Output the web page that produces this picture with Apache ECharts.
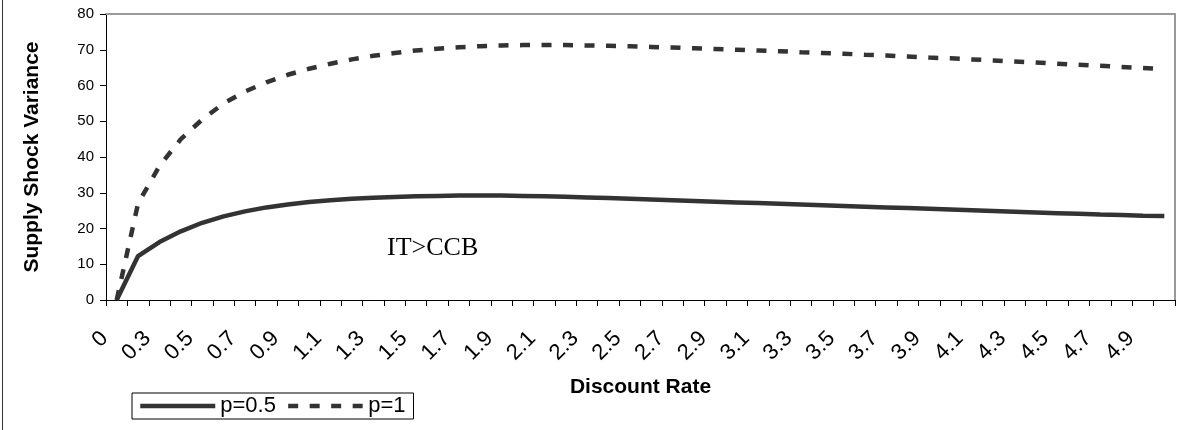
<!DOCTYPE html>
<html>
<head>
<meta charset="utf-8">
<script src="https://cdn.jsdelivr.net/npm/echarts@6/dist/echarts.min.js"></script>
<style>
html,body{margin:0;padding:0;background:#fff;}
#chart{width:1186px;height:430px;}
</style>
</head>
<body>
<div id="chart"></div>
<script>
// Categories (discount rate)
const categories = ['0','0.2','0.3','0.4','0.5','0.6','0.7','0.8','0.9','1',
  '1.1','1.2','1.3','1.4','1.5','1.6','1.7','1.8','1.9','2',
  '2.1','2.2','2.3','2.4','2.5','2.6','2.7','2.8','2.9','3',
  '3.1','3.2','3.3','3.4','3.5','3.6','3.7','3.8','3.9','4',
  '4.1','4.2','4.3','4.4','4.5','4.6','4.7','4.8','4.9','5'];

// p = 0.5 (solid)
const p05 = [0, 12.3, 16.2, 19.2, 21.6, 23.4, 24.8, 25.9, 26.7, 27.4,
  27.9, 28.3, 28.6, 28.8, 29.0, 29.1, 29.2, 29.2, 29.2, 29.1,
  29.0, 28.9, 28.7, 28.5, 28.3, 28.1, 27.9, 27.7, 27.5, 27.3,
  27.1, 26.9, 26.7, 26.5, 26.3, 26.1, 25.9, 25.7, 25.5, 25.3,
  25.1, 24.9, 24.7, 24.5, 24.3, 24.1, 23.9, 23.8, 23.6, 23.5];

// p = 1 (dashed)
const p1 = [0, 27.0, 37.5, 45.0, 50.5, 55.0, 58.3, 60.9, 63.0, 64.7,
  66.1, 67.3, 68.3, 69.1, 69.8, 70.3, 70.7, 71.0, 71.2, 71.3,
  71.3, 71.3, 71.2, 71.1, 71.0, 70.8, 70.6, 70.4, 70.2, 70.0,
  69.8, 69.6, 69.3, 69.1, 68.9, 68.6, 68.4, 68.1, 67.8, 67.6,
  67.3, 67.0, 66.7, 66.4, 66.1, 65.8, 65.5, 65.2, 64.9, 64.6];

const seriesNames = ['p=0.5', 'p=1'];
const xTitle = 'Discount Rate';
const yTitle = 'Supply Shock Variance';
const annotation = 'IT>CCB';

const FONT = '"Liberation Sans", Arial, sans-serif';

const chart = echarts.init(document.getElementById('chart'), null, {renderer: 'canvas'});
chart.setOption({
  animation: false,
  backgroundColor: '#fff',
  textStyle: {fontFamily: FONT, color: '#000'},
  grid: {left: 106, right: 11, top: 14, bottom: 130, containLabel: false},
  legend: {
    show: true,
    left: 132, top: 393,
    orient: 'horizontal',
    itemWidth: 75, itemHeight: 14, itemGap: 10,
    padding: [2, 8, 2, 6],
    borderColor: '#000', borderWidth: 1,
    backgroundColor: '#fff',
    itemStyle: {opacity: 0},
    lineStyle: {width: 4.5},
    textStyle: {fontFamily: FONT, fontSize: 22, color: '#000'},
    data: seriesNames
  },
  xAxis: [{
    type: 'category',
    data: categories,
    boundaryGap: true,
    position: 'bottom',
    name: xTitle,
    nameLocation: 'middle',
    nameGap: 77,
    nameTextStyle: {fontFamily: FONT, fontWeight: 'bold', fontSize: 21, color: '#000'},
    axisLine: {show: true, onZero: false, lineStyle: {color: '#000', width: 1}},
    axisTick: {show: true, interval: 0, length: 6, inside: false, lineStyle: {color: '#000'}},
    axisLabel: {show: true, interval: 1, rotate: 45, margin: 23, padding: [0, 17, 0, 0], fontSize: 22, color: '#000', fontFamily: FONT},
    splitLine: {show: false}
  }, {
    type: 'category',
    data: categories,
    position: 'top',
    axisLine: {show: true, onZero: false, lineStyle: {color: '#999', width: 2}},
    axisTick: {show: false},
    axisLabel: {show: false},
    splitLine: {show: false}
  }],
  yAxis: [{
    type: 'value',
    min: 0, max: 80, interval: 10,
    position: 'left',
    name: yTitle,
    nameLocation: 'middle',
    nameGap: 63,
    nameRotate: 90,
    nameTextStyle: {fontFamily: FONT, fontWeight: 'bold', fontSize: 21, color: '#000'},
    axisLine: {show: true, onZero: false, lineStyle: {color: '#000', width: 1}},
    axisTick: {show: true, length: 6, inside: false, lineStyle: {color: '#000'}},
    axisLabel: {show: true, margin: 12, fontSize: 15, color: '#000', fontFamily: FONT},
    splitLine: {show: false}
  }, {
    type: 'value',
    min: 0, max: 80, interval: 10,
    position: 'right',
    axisLine: {show: true, onZero: false, lineStyle: {color: '#999', width: 2}},
    axisTick: {show: false},
    axisLabel: {show: false},
    splitLine: {show: false}
  }],
  series: [{
    name: seriesNames[0],
    type: 'line',
    data: p05,
    symbol: 'none',
    smooth: false,
    lineStyle: {color: '#333', width: 4.5, type: 'solid', cap: 'butt'},
    itemStyle: {color: '#333'}
  }, {
    name: seriesNames[1],
    type: 'line',
    data: p1,
    symbol: 'none',
    smooth: false,
    lineStyle: {color: '#333', width: 4.5, type: [10, 11.5], cap: 'butt'},
    itemStyle: {color: '#333'}
  }],
  graphic: [{
    type: 'line',
    shape: {x1: 2.5, y1: 0, x2: 2.5, y2: 430},
    style: {stroke: '#333', lineWidth: 1}
  }, {
    type: 'text',
    left: 387, top: 235,
    style: {text: annotation, font: 'normal 26px "Liberation Serif", "Times New Roman", serif', fill: '#000'}
  }]
});
</script>
</body>
</html>
